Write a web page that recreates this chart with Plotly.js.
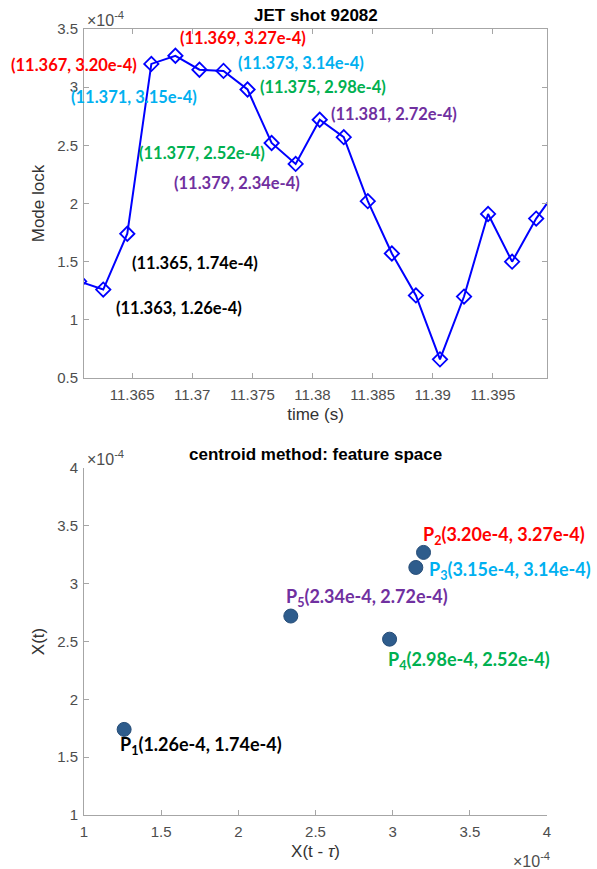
<!DOCTYPE html>
<html>
<head>
<meta charset="utf-8">
<script src="https://cdn.plot.ly/plotly-3.0.1.min.js"></script>
<style>html,body{margin:0;padding:0;background:#fff}#chart{width:597px;height:869px}</style>
</head>
<body>
<div id="chart"></div>
<script>
// ---- data (values in units of 1e-4) ----
const time = [11.3606, 11.3626, 11.3646, 11.3666, 11.3686, 11.3706, 11.3726, 11.3746, 11.3766, 11.3786,
              11.3806, 11.3826, 11.3846, 11.3866, 11.3886, 11.3906, 11.3926, 11.3946, 11.3966, 11.3986, 11.4006];
const modeLock = [1.33, 1.26, 1.74, 3.20, 3.27, 3.15, 3.14, 2.98, 2.52, 2.34,
                  2.72, 2.57, 2.02, 1.57, 1.21, 0.66, 1.20, 1.91, 1.50, 1.87, 2.16];
const labelIdx = [1, 2, 3, 4, 5, 6, 7, 8, 9, 10];

const pointNames = ["P<sub>1</sub>", "P<sub>2</sub>", "P<sub>3</sub>", "P<sub>4</sub>", "P<sub>5</sub>"];
const xLag = [1.26, 3.20, 3.15, 2.98, 2.34];
const xNow = [1.74, 3.27, 3.14, 2.52, 2.72];

const topTicks = [11.365, 11.37, 11.375, 11.38, 11.385, 11.39, 11.395];
const topYTicks = [0.5, 1, 1.5, 2, 2.5, 3, 3.5];
const botTicks = [1, 1.5, 2, 2.5, 3, 3.5, 4];

// ---- styles ----
const RED = '#FF0000', CYAN = '#00B0F0', GREEN = '#00B050', PURPLE = '#7030A0', BLACK = '#000000';
const topStyle = [
  {c: BLACK,  a: 'left',  dx: 11,  dy: 18},
  {c: BLACK,  a: 'left',  dx: 3,   dy: 29},
  {c: RED,    a: 'right', dx: -12, dy: 1},
  {c: RED,    a: 'left',  dx: 3,   dy: -18},
  {c: CYAN,   a: 'right', dx: 0,   dy: 27},
  {c: CYAN,   a: 'left',  dx: 12,  dy: -8},
  {c: GREEN,  a: 'left',  dx: 10,  dy: -2},
  {c: GREEN,  a: 'right', dx: -5,  dy: 10},
  {c: PURPLE, a: 'right', dx: 6,   dy: 19},
  {c: PURPLE, a: 'left',  dx: 9,   dy: -6}
];
const botStyle = [
  {c: BLACK,  dx: -6, dy: 16},
  {c: RED,    dx: -3, dy: -17},
  {c: CYAN,   dx: 11, dy: 3},
  {c: GREEN,  dx: -4, dy: 21},
  {c: PURPLE, dx: -7, dy: -19}
];
const annFont = {family: 'Lato, "Open Sans", sans-serif', size: 16.5, weight: 700};
const botAnnFont = {family: 'Lato, "Open Sans", sans-serif', size: 18, weight: 700};
const axFont = {family: 'Arial, "Liberation Sans", sans-serif', size: 15, color: '#4d4d4d'};
const expFont = {family: 'Arial, "Liberation Sans", sans-serif', size: 16, color: '#4d4d4d'};
const axTitleFont = {family: 'Arial, "Liberation Sans", sans-serif', size: 17, color: '#333333'};
const titleFont = {family: 'Arial, "Liberation Sans", sans-serif', size: 17, weight: 700, color: '#000'};
const axisColor = '#a6a6a6';

const annotations = [];
labelIdx.forEach((i, k) => {
  const s = topStyle[k];
  annotations.push({
    xref: 'x', yref: 'y', x: time[i], y: modeLock[i], showarrow: false,
    text: '(' + time[i].toFixed(3) + ', ' + modeLock[i].toFixed(2) + 'e-4)',
    xanchor: s.a, yanchor: 'middle', xshift: s.dx, yshift: -s.dy,
    font: Object.assign({}, annFont, {color: s.c})
  });
});
pointNames.forEach((n, i) => {
  const s = botStyle[i];
  annotations.push({
    xref: 'x2', yref: 'y2', x: xLag[i], y: xNow[i], showarrow: false,
    text: n + '(' + xLag[i].toFixed(2) + 'e-4, ' + xNow[i].toFixed(2) + 'e-4)',
    xanchor: 'left', yanchor: 'middle', xshift: s.dx, yshift: -s.dy,
    font: Object.assign({}, botAnnFont, {color: s.c})
  });
});
// subplot titles and exponent labels
annotations.push(
  {xref: 'paper', yref: 'paper', x: 0.5, y: 1, yshift: 14, showarrow: false, text: 'JET shot 92082',
   font: titleFont, yanchor: 'middle'},
  {xref: 'paper', yref: 'paper', x: 0.5, y: 0.4415, yshift: 13, showarrow: false, text: 'centroid method: feature space',
   font: titleFont, yanchor: 'middle'},
  {xref: 'paper', yref: 'paper', x: 0, y: 1, xshift: 1, yshift: 10, showarrow: false, xanchor: 'left', yanchor: 'middle',
   text: '×10<sup>-4</sup>', font: expFont},
  {xref: 'paper', yref: 'paper', x: 0, y: 0.4415, xshift: 1, yshift: 10, showarrow: false, xanchor: 'left', yanchor: 'middle',
   text: '×10<sup>-4</sup>', font: expFont},
  {xref: 'paper', yref: 'paper', x: 1, y: 0, xshift: 5, yshift: -45, showarrow: false, xanchor: 'right', yanchor: 'middle',
   text: '×10<sup>-4</sup>', font: expFont}
);

const traces = [
  {x: time, y: modeLock, xaxis: 'x', yaxis: 'y', type: 'scatter', mode: 'lines+markers',
   line: {color: '#0000FF', width: 2},
   marker: {symbol: 'diamond-open', size: 11, color: '#0000FF', line: {width: 1.8, color: '#0000FF'}},
   hoverinfo: 'skip'},
  {x: xLag, y: xNow, xaxis: 'x2', yaxis: 'y2', type: 'scatter', mode: 'markers',
   marker: {symbol: 'circle', size: 14, color: '#2E5C8C', line: {width: 1, color: '#264d78'}},
   hoverinfo: 'skip'}
];

const baseAxis = {
  showgrid: false, zeroline: false, showline: true, linecolor: axisColor, linewidth: 1,
  ticks: 'inside', ticklen: 5, tickcolor: axisColor, tickfont: axFont, fixedrange: true
};

const layout = {
  width: 597, height: 869,
  margin: {l: 84, r: 50, t: 29, b: 54},
  paper_bgcolor: '#fff', plot_bgcolor: '#fff',
  showlegend: false,
  xaxis: Object.assign({}, baseAxis, {
    domain: [0, 1], anchor: 'y', range: [11.361, 11.3995], tickvals: topTicks, mirror: 'ticks',
    ticklabelstandoff: 3,
    title: {text: 'time (s)', font: axTitleFont, standoff: 6}
  }),
  yaxis: Object.assign({}, baseAxis, {
    domain: [0.556, 1], anchor: 'x', range: [0.5, 3.5], tickvals: topYTicks, mirror: 'ticks',
    ticklabelstandoff: 2,
    title: {text: 'Mode lock', font: axTitleFont, standoff: 8}
  }),
  xaxis2: Object.assign({}, baseAxis, {
    domain: [0, 1], anchor: 'y2', range: [1, 4], tickvals: botTicks,
    ticklabelstandoff: 3,
    title: {text: 'X(t - <i>τ</i>)', font: axTitleFont, standoff: 6}
  }),
  yaxis2: Object.assign({}, baseAxis, {
    domain: [0, 0.4415], anchor: 'x2', range: [1, 4], tickvals: botTicks,
    ticklabelstandoff: 2,
    title: {text: 'X(t)', font: axTitleFont, standoff: 8}
  }),
  annotations: annotations
};

Plotly.newPlot('chart', traces, layout, {displayModeBar: false, staticPlot: true});
</script>
</body>
</html>
